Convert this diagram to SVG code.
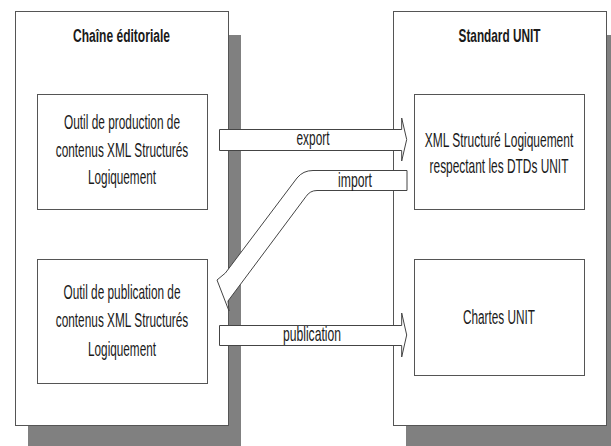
<svg xmlns="http://www.w3.org/2000/svg" width="611" height="446" viewBox="0 0 611 446">
<style>
.shadow{fill:#808080;stroke:none}
.container{fill:#ffffff;stroke:#555555;stroke-width:1}
.box{fill:#ffffff;stroke:#555555;stroke-width:1}
.arrow{fill:#ffffff;stroke:#444444;stroke-width:1;stroke-linejoin:miter}
.title{font-family:"Liberation Sans",Arial,sans-serif;font-weight:bold;font-size:18px;fill:#1a1a1a;text-anchor:middle}
.txt{font-family:"Liberation Sans",Arial,sans-serif;font-size:21px;fill:#1a1a1a;text-anchor:middle}
</style>
<rect width="611" height="446" fill="#ffffff"/>
<g id="chaine-editoriale">
<rect class="shadow" x="28" y="35" width="213" height="414"/>
<rect class="container" x="15.5" y="11.5" width="213" height="414"/>
<text class="title" transform="translate(121.5,42) scale(0.669,1)">Chaîne éditoriale</text>
</g>
<g id="standard-unit">
<rect class="shadow" x="406" y="35" width="213" height="414"/>
<rect class="container" x="393.5" y="11.5" width="213" height="414"/>
<text class="title" transform="translate(499.5,42) scale(0.656,1)">Standard UNIT</text>
</g>
<g id="outil-production">
<rect class="box" x="37.5" y="94.5" width="170" height="115"/>
<text class="txt" transform="translate(122,129) scale(0.565,1)">Outil de production de</text>
<text class="txt" transform="translate(122,157) scale(0.564,1)">contenus XML Structurés</text>
<text class="txt" transform="translate(122,184) scale(0.56,1)">Logiquement</text>
</g>
<g id="outil-publication">
<rect class="box" x="37.5" y="259.5" width="170" height="124"/>
<text class="txt" transform="translate(122,299) scale(0.563,1)">Outil de publication de</text>
<text class="txt" transform="translate(122,327) scale(0.564,1)">contenus XML Structurés</text>
<text class="txt" transform="translate(122,356) scale(0.56,1)">Logiquement</text>
</g>
<g id="xml-structure">
<rect class="box" x="414.5" y="94.5" width="170" height="115"/>
<text class="txt" transform="translate(499,147) scale(0.57,1)">XML Structuré Logiquement</text>
<text class="txt" transform="translate(499,173) scale(0.567,1)">respectant les DTDs UNIT</text>
</g>
<g id="chartes-unit">
<rect class="box" x="414.5" y="259.5" width="170" height="116"/>
<text class="txt" transform="translate(499,324) scale(0.561,1)">Chartes UNIT</text>
</g>
<g id="connectors">
<g id="export">
<path class="arrow" d="M219.5,129.5 H401.7 V118 L406.7,139.5 L401.7,161 V150.5 H219.5 Z"/>
<text class="txt" transform="translate(313,145) scale(0.565,1)">export</text>
</g>
<g id="import">
<path class="arrow" d="M407,170.5 H313 Q303,170.5 297,178 L225.4,273 L217,280 L229,311 L228,301 L306,196.5 Q310,190.5 317,190.5 H407 Z"/>
<text class="txt" transform="translate(355,187) scale(0.583,1)">import</text>
</g>
<g id="publication">
<path class="arrow" d="M219.5,325.5 H401.7 V313 L406.7,335 L401.7,357 V345.5 H219.5 Z"/>
<text class="txt" transform="translate(312,341) scale(0.578,1)">publication</text>
</g>
</g>
</svg>
